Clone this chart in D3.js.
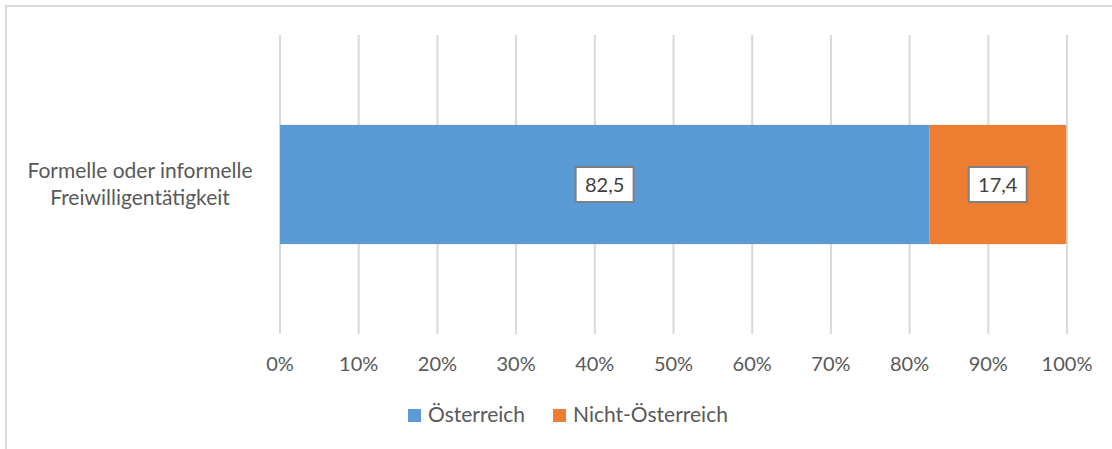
<!DOCTYPE html>
<html><head><meta charset="utf-8">
<script src="https://cdn.jsdelivr.net/npm/d3@7"></script>
<style>
html,body{margin:0;padding:0;background:#fff;}
svg{display:block;font-family:Lato, "Open Sans", sans-serif;}
</style></head>
<body>
<svg id="c" width="1112" height="449"></svg>
<script>
const categories = ["Formelle oder informelle\nFreiwilligentätigkeit"];
const seriesNames = ["Österreich", "Nicht-Österreich"];
const seriesColors = ["#5B9BD5", "#ED7D31"];
const oesterreich = [82.5];
const nichtOesterreich = [17.4];
const tickValues = [0,10,20,30,40,50,60,70,80,90,100];
const tickLabels = ["0%","10%","20%","30%","40%","50%","60%","70%","80%","90%","100%"];

const svg = d3.select("#c");
const textColor = "#595959";

// outer border
svg.append("rect").attr("x",6).attr("y",6).attr("width",1112).attr("height",449)
  .attr("fill","none").attr("stroke","#d9d9d9").attr("stroke-width",2);

const x = d3.scaleLinear().domain([0,100]).range([280,1067]);
const y = d3.scaleBand().domain(categories).range([35,334]).padding(0.43);

// gridlines
svg.append("g").selectAll("line").data(tickValues).join("line")
  .attr("x1",d=>x(d)).attr("x2",d=>x(d)).attr("y1",35).attr("y2",334)
  .attr("stroke","#d9d9d9").attr("stroke-width",2);

// stacked bars
const series = [oesterreich, nichtOesterreich];
categories.forEach((c,i)=>{
  let start = 0;
  series.forEach((s,j)=>{
    const v = s[i];
    svg.append("rect").attr("x",x(start)).attr("y",y(c))
      .attr("width",x(start+v)-x(start)).attr("height",y.bandwidth())
      .attr("fill",seriesColors[j]);
    const cx = (x(start)+x(start+v))/2, cy = y(c)+y.bandwidth()/2;
    const g = svg.append("g");
    g.append("rect").attr("x",cx-29).attr("y",cy-17.5).attr("width",58).attr("height",35)
      .attr("fill","#fff").attr("stroke","#7f7f7f").attr("stroke-width",2);
    g.append("text").attr("x",cx).attr("y",cy+7).attr("text-anchor","middle")
      .attr("font-size",20).attr("fill","#404040").text(d3.format(".1f")(v).replace(".",","));
    start += v;
  });
  // category label
  const lines = c.split("\n");
  const ct = svg.append("text").attr("text-anchor","middle").attr("font-size",21).attr("fill",textColor);
  lines.forEach((l,k)=>{
    ct.append("tspan").attr("x",140).attr("y",178+k*27).text(l);
  });
});

// x tick labels
svg.append("g").selectAll("text").data(tickValues).join("text")
  .attr("x",d=>x(d)).attr("y",371).attr("text-anchor","middle")
  .attr("font-size",20).attr("fill",textColor).text((d,i)=>tickLabels[i]);

// legend
const legX = [408, 553];
seriesNames.forEach((n,j)=>{
  svg.append("rect").attr("x",legX[j]).attr("y",409).attr("width",13).attr("height",13).attr("fill",seriesColors[j]);
  svg.append("text").attr("x",legX[j]+20).attr("y",422).attr("font-size",21).attr("fill",textColor).text(n);
});
</script>
</body></html>
